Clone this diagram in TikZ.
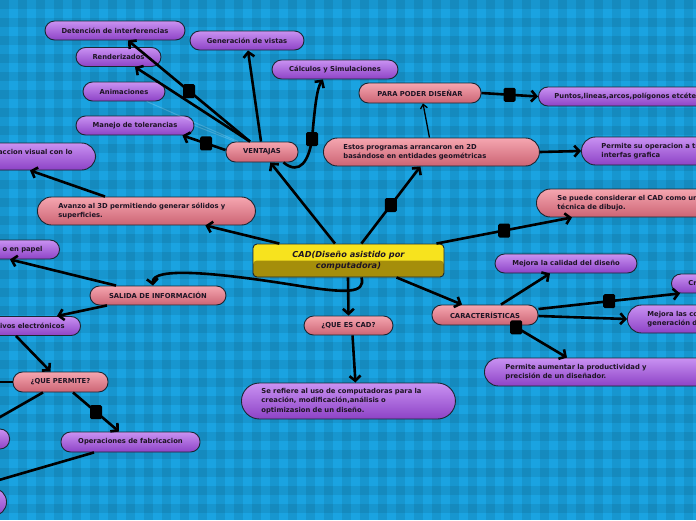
\documentclass[tikz,border=0pt]{standalone}
\usepackage{fontspec}
\setmainfont{DejaVu Sans}
\usetikzlibrary{arrows.meta,calc}
\definecolor{bgA}{HTML}{1AA3E1}
\definecolor{purT}{HTML}{C992F2}
\definecolor{purB}{HTML}{8D42C6}
\definecolor{pnkT}{HTML}{F5A6B0}
\definecolor{pnkB}{HTML}{CC6474}
\definecolor{yelT}{HTML}{F7E31E}
\definecolor{yelB}{HTML}{A58E0B}
\definecolor{edgec}{HTML}{1A2733}
\definecolor{txt}{HTML}{1E1424}
\newcommand\lblfont{\fontsize{6.8}{9.4}\selectfont\bfseries}
\tikzset{
  box/.style={draw=edgec, line width=0.9pt, rounded corners=9.5pt, inner ysep=0pt, font=\lblfont, text=txt, minimum height=19pt},
  pur/.style={box, top color=purT, bottom color=purB},
  pnk/.style={box, top color=pnkT, bottom color=pnkB},
  twoline/.style={rounded corners=14pt, minimum height=28pt, align=left, inner xsep=20pt},
  conn/.style={line width=2.6pt, -{Straight Barb[length=5pt,width=11pt]}},
  thinconn/.style={line width=1.3pt, -{Straight Barb[length=4pt,width=7pt]}},
  faint/.style={line width=1pt, white, opacity=0.18},
  sq/.style={fill=black, rounded corners=1.5pt, minimum width=12pt, minimum height=14pt, inner sep=0pt},
}
\begin{document}
\begin{tikzpicture}[x=1pt,y=-1pt]
\useasboundingbox (0,0) rectangle (696,520);
\clip (0,0) rectangle (696,520);
% background plaid
\fill[bgA] (0,0) rectangle (696,520);
\foreach \i in {0,...,38} {\fill[black,opacity=0.08] (\i*18,0) rectangle ++(9,520);}
\foreach \i in {0,...,28} {\fill[black,opacity=0.08] (0,\i*18) rectangle ++(696,9);}

% central node
\node[draw=edgec, line width=0.9pt, rounded corners=4pt, fill=yelT,
  path picture={\fill[yelB] (path picture bounding box.west) rectangle (path picture bounding box.south east);},
  minimum width=191pt, minimum height=33pt, inner sep=0pt, align=center, text=txt,
  font=\fontsize{8.2}{11.5}\selectfont\bfseries\itshape] (cad) at (348.5,260.5) {CAD(Diseño asistido por\\computadora)};

% purple nodes
\node[pur, minimum width=140pt] (det) at (115,30.5) {Detención de interferencias};
\node[pur, minimum width=114pt] (gen) at (247,40.5) {Generación de vistas};
\node[pur, minimum width=85pt] (ren) at (118.5,57) {Renderizados};
\node[pur, minimum width=126pt] (calc) at (335,69.5) {Cálculos y Simulaciones};
\node[pur, minimum width=82pt] (ani) at (124,91.5) {Animaciones};
\node[pur, minimum width=118pt] (man) at (135,125.5) {Manejo de tolerancias};
\node[pur, twoline, anchor=east, minimum height=27pt, text width=100pt, align=right, inner xsep=23pt] (vis) at (96,156.5) {accion visual con lo\\\phantom{x}};
\node[pur, anchor=west, inner xsep=16pt] (pun) at (538,96.5) {Puntos,lineas,arcos,polígonos etcétera};
\node[pur, twoline, anchor=west, text width=200pt] (perm) at (581,151) {\mbox{Permite su operacion a través de una}\\interfas grafica};
\node[pur, anchor=east, text width=60pt, align=right, inner xsep=17pt] (papel) at (60,249.5) {o en papel};
\node[pur, anchor=east, text width=65pt, align=right, inner xsep=16pt] (elec) at (81,326) {ivos electrónicos};
\node[pur, anchor=east, minimum width=60pt, minimum height=20pt] (lft1) at (10,439) {};
\node[pur, twoline, anchor=east, text width=40pt] (lft2) at (7,502) {\phantom{x}\\\phantom{x}};
\node[pur, minimum width=139pt, minimum height=20pt] (op) at (130.5,442) {Operaciones de fabricacion};
\node[pur, twoline, rounded corners=18pt, minimum height=36pt, anchor=west, text width=174pt] (ref) at (241,401) {\mbox{Se refiere al uso de computadoras para la}\\\mbox{creación, modificación,análisis o}\\optimizasion de un diseño.};
\node[pur, minimum width=142pt] (mej) at (566,263.5) {Mejora la calidad del diseño};
\node[pur, anchor=west, inner xsep=17pt] (cr) at (671,283.5) {Crear};
\node[pur, twoline, anchor=west, text width=180pt] (mejc) at (627,319) {\mbox{Mejora las comunicaciones}\\generación de documentos};
\node[pur, twoline, anchor=west, text width=200pt, inner xsep=21pt] (aum) at (484,372) {\mbox{Permite aumentar la productividad y}\\precisión de un diseñador.};

% pink nodes
\node[pnk, minimum width=72pt, minimum height=20pt] (ven) at (262,152) {VENTAJAS};
\node[pnk, minimum width=122pt, minimum height=20pt] (para) at (420,93) {PARA PODER DISEÑAR};
\node[pnk, twoline, anchor=west, text width=176pt] (est) at (323,152) {\mbox{Estos programas arrancaron en 2D}\\\mbox{basándose en entidades geométricas}};
\node[pnk, twoline, anchor=west, text width=200pt, inner xsep=21pt] (sepc) at (536,203) {\mbox{Se puede considerar el CAD como una}\\técnica de dibujo.};
\node[pnk, twoline, anchor=west, text width=176pt, inner xsep=21pt] (avz) at (37,211) {\mbox{Avanzo al 3D permitiendo generar sólidos y}\\superficies.};
\node[pnk, minimum width=136pt] (sal) at (158,295.5) {SALIDA DE INFORMACIÓN};
\node[pnk, minimum width=89pt] (qec) at (348.5,325.5) {¿QUE ES CAD?};
\node[pnk, minimum width=106pt, minimum height=20pt] (car) at (485,315) {CARACTERÍSTICAS};
\node[pnk, minimum width=95pt, minimum height=20pt] (qp) at (60.5,382) {¿QUE PERMITE?};
\coordinate (offL) at (-8,382);

% connectors from CAD
\draw[conn] (cad) -- (ven);
\draw[conn] (cad) -- (est) node[sq,pos=.5] (s1) {};
\draw[conn] (cad) -- ($(sepc.south west)+(36,0)$) node[sq,pos=.5] (s2) {};
\draw[conn] (cad) -- (avz);
\draw[conn] ($(cad.south)+(13,0)$) .. controls (366,294) and (345,293) .. (300,286) .. controls (220,273) and (151,266) .. ($(sal.north)+(-5,0)$);
\draw[conn] ($(cad.south)+(-0.5,0)$) -- (qec.north);
\draw[conn] ($(cad.south)+(48,0)$) -- ($(car.north)+(-23,0)$);
\draw[conn] ($(qec.south)+(4,0)$) -- ($(ref.north)+(7,0)$);

% VENTAJAS
\draw[faint] (ani) -- (ven);
\draw[faint] (man.east) -- (ven);
\draw[conn] ($(ven.north)+(-12,0)$) -- ($(det.south)+(13,0)$) node[sq,pos=.5] (s3) {};
\draw[conn] ($(ven.north)+(-12,0)$) -- ($(ren.south)+(16.5,0)$);
\draw[conn] ($(ven.west)+(0,-2)$) -- ($(man.south east)+(-12,0)$) node[sq,pos=.45] (s4) {};
\draw[conn] ($(ven.north)+(-1,0)$) -- ($(gen.south)+(1,0)$);
\draw[conn] ($(ven.south east)+(-15,0)$) .. controls (300,176) and (309,160) .. (312,139) node[sq] (s5) {} .. controls (315,105) and (317,88) .. ($(calc.south)+(-12,0)$);

\draw[conn] ($(avz.north west)+(68,0)$) -- ($(vis.south east)+(-66,0)$);
\draw[thinconn] ($(est.north)+(-2,0)$) -- ($(para.south)+(3,0)$);
\draw[conn] (para.east) -- (pun.west) node[sq,pos=.5] (s6) {};
\draw[conn] (est.east) -- (perm.west);

% SALIDA
\draw[conn] ($(sal.north)+(-42,0)$) -- ($(papel.south east)+(-50,0)$);
\draw[conn] ($(sal.south)+(-51,0)$) -- ($(elec.north east)+(-24,0)$);
\draw[conn] ($(elec.south east)+(-65,0)$) -- ($(qp.north)+(-10,0)$);
\draw[conn] (qp.west) -- (offL);
\draw[conn] ($(qp.south)+(-17.5,0)$) -- ($(lft1.north east)+(-30,0)$);
\draw[conn] ($(qp.south)+(12.5,0)$) -- ($(op.north)+(-11.5,0)$) node[sq,pos=.5] (s7) {};
\draw[conn] ($(op.south)+(-36.5,0)$) -- ($(lft2.north east)+(-34,0)$);

% CARACTERISTICAS
\draw[conn] ($(car.north)+(16,0)$) -- ($(mej.south)+(-16,0)$);
\draw[conn] ($(car.east)+(0,-6)$) -- ($(cr.south west)+(9,0)$) node[sq,pos=.5] (s8) {};
\draw[conn] ($(car.east)+(0,1)$) -- (mejc.west);
\draw[conn] ($(car.south)+(28,0)$) -- ($(aum.north west)+(83,0)$) node[sq,pos=.06] (s9) {};
\end{tikzpicture}
\end{document}
